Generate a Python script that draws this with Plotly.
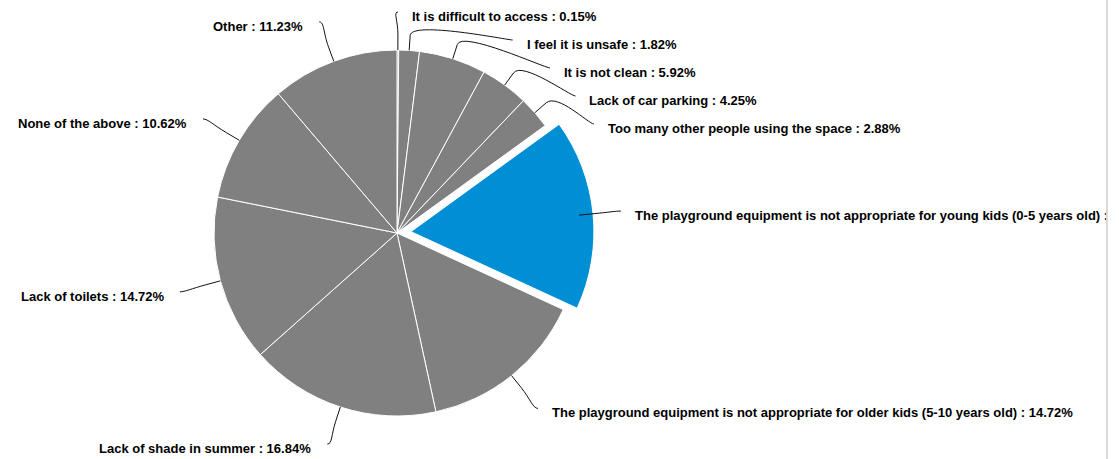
import math
import plotly.graph_objects as go

# ---------------- data ----------------
labels = [
    "It is difficult to access",
    "I feel it is unsafe",
    "It is not clean",
    "Lack of car parking",
    "Too many other people using the space",
    "The playground equipment is not appropriate for young kids (0-5 years old)",
    "The playground equipment is not appropriate for older kids (5-10 years old)",
    "Lack of shade in summer",
    "Lack of toilets",
    "None of the above",
    "Other",
]
values = [0.15, 1.82, 5.92, 4.25, 2.88, 16.85, 14.72, 16.84, 14.72, 10.62, 11.23]
highlighted = "The playground equipment is not appropriate for young kids (0-5 years old)"

# ---------------- style / geometry ----------------
W, H = 1119, 459
CX, CY, R = 397, 233, 183          # pie centre and radius in pixels
PULL_PX = 14
GRAY, BLUE = "#808080", "#008fd5"
LABEL_R = 225                      # radius of the label circle
BREAK_OFF = 15                     # connector break distance outside the pie
Y_MIN, Y_MAX, SPACING = 12, 444, 28
FONT = "Liberation Sans, Arial, sans-serif"

pull_frac = PULL_PX / R
half = R * (1 + pull_frac)
colors = [BLUE if l == highlighted else GRAY for l in labels]
pulls = [pull_frac if l == highlighted else 0 for l in labels]


def px(x):
    return x / W


def py(y):
    return 1 - y / H


fig = go.Figure(go.Pie(
    labels=labels, values=values, sort=False, direction="clockwise", rotation=0,
    marker=dict(colors=colors, line=dict(color="white", width=1)),
    pull=pulls, textinfo="none", hoverinfo="skip", showlegend=False,
    domain=dict(x=[px(CX - half), px(CX + half)], y=[py(CY + half), py(CY - half)]),
))

# ---------------- label layout (computed from the data) ----------------
total = sum(values)
points = []
cum = 0
for lab, val in zip(labels, values):
    mid = (cum + val / 2) / total * 2 * math.pi
    cum += val
    dx, dy = math.sin(mid), -math.cos(mid)
    points.append(dict(label=lab, value=val, dx=dx, dy=dy,
                       left=dx < 0, ny=CY + LABEL_R * dy))


def distribute(group):
    group.sort(key=lambda p: p["ny"])
    prev = None
    for p in group:
        y = min(max(p["ny"], Y_MIN), Y_MAX)
        if prev is not None and y < prev + SPACING:
            y = prev + SPACING
        p["y"] = y
        prev = y
    nxt = None
    for p in reversed(group):
        lim = Y_MAX if nxt is None else nxt - SPACING
        if p["y"] > lim:
            p["y"] = lim
        nxt = p["y"]


distribute([p for p in points if not p["left"]])
distribute([p for p in points if p["left"]])

shapes = []
annotations = []
for p in points:
    sign = -1 if p["left"] else 1
    y = p["y"]
    dyl = (p["ny"] - CY) if y in (Y_MIN, Y_MAX) else (y - CY)
    dyl = max(min(dyl, LABEL_R), -LABEL_R)
    lx = CX + sign * math.sqrt(LABEL_R ** 2 - dyl ** 2)
    ly = y
    tx, ty = CX + R * p["dx"], CY + R * p["dy"]
    bx, by = CX + (R + BREAK_OFF) * p["dx"], CY + (R + BREAK_OFF) * p["dy"]
    c1x, c1y = lx - sign * 5, ly
    c2x, c2y = 2 * bx - tx, 2 * by - ty
    path = (f"M {px(lx)},{py(ly)} C {px(c1x)},{py(c1y)} {px(c2x)},{py(c2y)} "
            f"{px(bx)},{py(by)} L {px(tx)},{py(ty)}")
    shapes.append(dict(type="path", path=path, xref="paper", yref="paper",
                       line=dict(color="#111111", width=1), layer="above"))
    text_x = lx - 14 if p["left"] else lx + 12
    annotations.append(dict(
        x=px(text_x), y=py(ly + 4.5), xref="paper", yref="paper",
        xanchor="right" if p["left"] else "left", yanchor="middle",
        text=f"{p['label']} : {p['value']:.2f}%", showarrow=False,
        font=dict(family=FONT, size=13, color="#000000", weight="bold"),
    ))

# container edge on the right that clips the long label
annotations.append(dict(
    x=px(1106), y=0.5, xref="paper", yref="paper", xanchor="left", yanchor="middle",
    text=" ", showarrow=False, width=80, height=H + 60,
    bgcolor="white", bordercolor="#d9d9d9", borderwidth=2, borderpad=0,
))

fig.update_layout(
    width=W, height=H, margin=dict(l=0, r=0, t=0, b=0),
    paper_bgcolor="white", plot_bgcolor="white",
    shapes=shapes, annotations=annotations,
)

fig.write_html("out.html", config={"displayModeBar": False},
               post_script="document.body.style.margin='0';")
